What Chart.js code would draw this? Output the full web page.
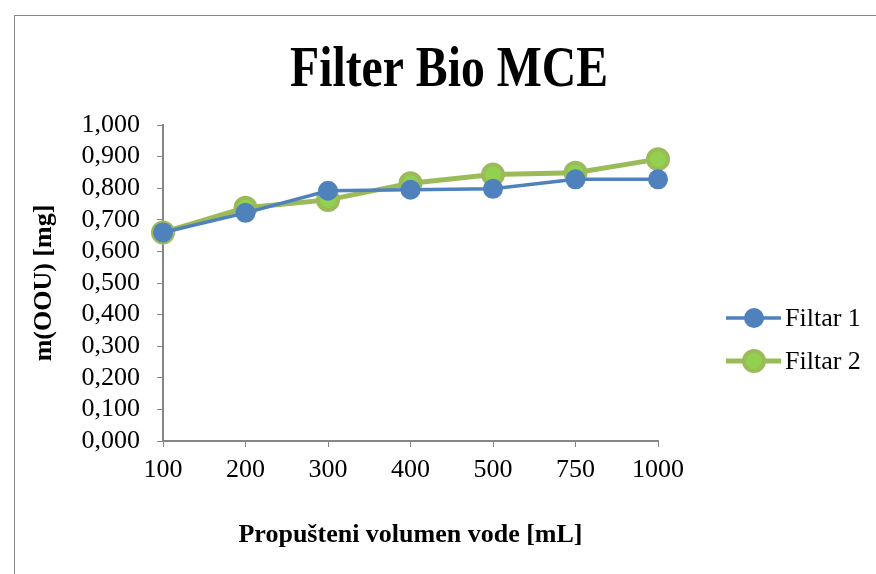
<!DOCTYPE html>
<html>
<head>
<meta charset="utf-8">
<script src="https://cdn.jsdelivr.net/npm/chart.js@4/dist/chart.umd.min.js"></script>
<style>
  html, body { margin: 0; padding: 0; background: #fff; }
  #wrap { position: relative; width: 876px; height: 574px; }
  #frame { position: absolute; left: 14px; top: 15px; width: 880px; height: 580px; border: 1px solid #888; box-sizing: border-box; }
  canvas { position: absolute; left: 0; top: 0; }
</style>
</head>
<body>
<div id="wrap">
  <div id="frame"></div>
  <canvas id="myChart" width="876" height="574"></canvas>
</div>
<script>
const volumes = ["100", "200", "300", "400", "500", "750", "1000"];
const filtar1 = [0.660, 0.722, 0.792, 0.795, 0.798, 0.828, 0.828];
const filtar2 = [0.660, 0.738, 0.763, 0.816, 0.843, 0.849, 0.892];
const chartTitle = "Filter Bio MCE";
const xTitle = "Propušteni volumen vode [mL]";
const yTitle = "m(OOU) [mg]";

const serif = "'Liberation Serif', 'Times New Roman', serif";
const axisGray = "#868686";
const textSize = 26;

// title + legend drawn by hand so they sit where Excel put them
const extras = {
  id: "extras",
  afterDraw(chart) {
    const ctx = chart.ctx;
    ctx.save();
    ctx.fillStyle = "#000";
    ctx.font = "bold 58px " + serif;
    ctx.textAlign = "center";
    ctx.textBaseline = "alphabetic";
    // the title in the original is squeezed sideways
    const w = ctx.measureText(chartTitle).width;
    const sx = 318 / w;
    ctx.save();
    ctx.translate(449, 86);
    ctx.scale(sx, 1);
    ctx.fillText(chartTitle, 0, 0);
    ctx.restore();

    ctx.textAlign = "left";
    ctx.textBaseline = "middle";
    ctx.font = textSize + "px " + serif;
    chart.data.datasets.forEach((ds, i) => {
      const y = 318 + i * 43;
      ctx.strokeStyle = ds.borderColor;
      ctx.lineWidth = ds.borderWidth;
      ctx.beginPath();
      ctx.moveTo(726, y);
      ctx.lineTo(781, y);
      ctx.stroke();
      ctx.beginPath();
      ctx.arc(754, y, ds.pointRadius, 0, Math.PI * 2);
      ctx.fillStyle = ds.pointBackgroundColor;
      ctx.fill();
      if (ds.pointBorderWidth > 0) {
        ctx.lineWidth = ds.pointBorderWidth;
        ctx.strokeStyle = ds.pointBorderColor;
        ctx.stroke();
      }
      ctx.fillStyle = "#000";
      ctx.fillText(ds.label, 785, y + 1);
    });
    ctx.restore();
  },
};

const data = {
  labels: volumes,
  datasets: [
    {
      label: "Filtar 1",
      data: filtar1,
      borderColor: "#4F81BD",
      borderWidth: 3.5,
      pointRadius: 10,
      pointBackgroundColor: "#4F81BD",
      pointBorderColor: "#4F81BD",
      pointBorderWidth: 0,
      tension: 0,
    },
    {
      label: "Filtar 2",
      data: filtar2,
      borderColor: "#9BBB59",
      borderWidth: 5,
      pointRadius: 10,
      pointBackgroundColor: "#92D050",
      pointBorderColor: "#9BBB59",
      pointBorderWidth: 4,
      tension: 0,
    },
  ],
};

const config = {
  type: "line",
  data: data,
  plugins: [extras],
  options: {
    responsive: false,
    animation: false,
    layout: { padding: { left: 0, top: 125, right: 218, bottom: 0 } },
    plugins: { legend: { display: false }, title: { display: false }, tooltip: { enabled: false } },
    scales: {
      x: {
        offset: false,
        afterFit: (s) => { s.height = 133; },
        grid: { drawOnChartArea: false, drawTicks: true, tickLength: 6, color: axisGray },
        border: { display: true, color: axisGray, width: 2 },
        ticks: { color: "#000", font: { family: serif, size: textSize }, padding: 8, maxRotation: 0, autoSkip: false },
        title: { display: true, text: xTitle, color: "#000", font: { family: serif, size: textSize, weight: "bold" }, padding: { top: 0, bottom: 23 } },
      },
      y: {
        min: 0,
        max: 1,
        afterFit: (s) => { s.width = 163; },
        grid: { drawOnChartArea: false, drawTicks: true, tickLength: 6, color: axisGray },
        border: { display: true, color: axisGray, width: 2 },
        ticks: {
          stepSize: 0.1,
          autoSkip: false,
          color: "#000",
          font: { family: serif, size: textSize },
          padding: 17,
          callback: (v) => v.toFixed(3).replace(".", ","),
        },
        title: { display: true, text: yTitle, color: "#000", font: { family: serif, size: textSize, weight: "bold" }, padding: { top: 29, bottom: 0 } },
      },
    },
  },
};

new Chart(document.getElementById("myChart"), config);
</script>
</body>
</html>
